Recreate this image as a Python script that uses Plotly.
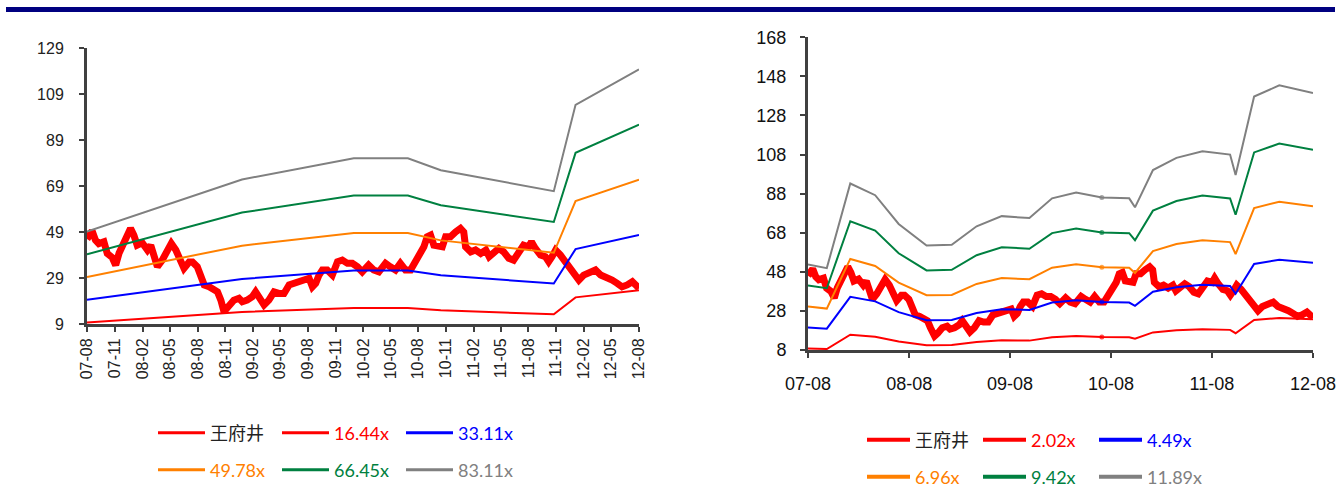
import plotly.graph_objects as go

W, H = 1341, 490

# ---------------- data ----------------
price_dates = [
    "2007-08-01","2007-08-09","2007-08-18","2007-08-29","2007-09-09","2007-09-26","2007-10-07","2007-10-23",
    "2007-11-04","2007-11-15","2007-11-26","2007-12-07","2007-12-23",
    "2008-01-03","2008-01-14","2008-01-31","2008-02-17","2008-02-28","2008-03-10","2008-03-21","2008-04-06",
    "2008-04-23","2008-05-06","2008-05-21","2008-06-06","2008-06-17","2008-07-04","2008-07-15","2008-07-31",
    "2008-08-12","2008-08-23","2008-09-08","2008-09-25","2008-10-06","2008-10-17","2008-10-26","2008-11-01",
    "2008-11-12","2008-11-29","2008-12-16","2008-12-27",
    "2009-01-12","2009-01-29","2009-02-09","2009-02-20","2009-03-09","2009-03-25","2009-04-11","2009-04-27",
    "2009-05-14","2009-05-31","2009-06-16","2009-07-03","2009-07-19","2009-08-05","2009-08-16","2009-08-27",
    "2009-09-07","2009-09-18","2009-10-04","2009-10-21","2009-11-07","2009-11-23","2009-12-10","2009-12-26",
    "2010-01-12","2010-01-28","2010-02-18","2010-03-07","2010-03-24","2010-04-15","2010-05-01","2010-05-18",
    "2010-06-03","2010-06-20","2010-07-07","2010-07-23","2010-08-09","2010-08-20","2010-08-31","2010-09-11",
    "2010-09-22","2010-10-09","2010-10-20","2010-10-31","2010-11-16","2010-12-03","2010-12-19","2010-12-30",
    "2011-01-05","2011-01-22","2011-02-07","2011-02-24","2011-03-13","2011-03-24","2011-04-09","2011-04-25",
    "2011-05-11","2011-05-28","2011-06-13","2011-06-30","2011-07-16","2011-08-02","2011-08-11","2011-08-24",
    "2011-09-10","2011-09-26","2011-10-07","2011-10-18","2011-10-30","2011-11-15","2011-12-02","2011-12-18",
    "2012-01-04","2012-01-15","2012-01-31","2012-02-17","2012-03-10","2012-03-27","2012-04-12","2012-05-04",
    "2012-05-21","2012-06-06","2012-06-23","2012-07-10","2012-07-21","2012-08-01",
]
price_values = [
    46.0, 48.6, 49.5, 45.5, 44.0, 44.8, 39.7, 38.0, 34.6, 39.8, 42.6, 46.3, 50.6,
    47.7, 43.3, 44.3, 41.2, 43.3, 37.6, 33.9, 36.8, 41.2, 44.1, 41.2, 36.8, 33.2, 36.0, 36.0, 33.9,
    28.9, 26.0, 25.2, 23.8, 23.0, 19.4, 15.0, 15.1, 16.5, 19.4, 20.2, 18.7,
    19.4, 20.9, 23.0, 20.2, 17.3, 19.4, 23.0, 22.3, 22.3, 26.0, 26.7, 27.4, 27.4, 28.9, 25.2, 26.7,
    30.3, 32.5, 32.5, 30.3, 36.1, 36.8, 35.4, 35.4,
    33.9, 31.7, 34.7, 32.5, 31.7, 35.4, 33.9, 32.5, 35.4, 32.5, 32.5, 36.1, 39.0, 42.6, 47.0, 47.7,
    43.3, 43.3, 42.6, 47.0, 47.0, 49.1, 50.6, 49.0,
    42.6, 40.4, 41.2, 39.7, 41.2, 38.3, 39.7, 41.9, 40.4, 37.6, 36.8, 39.7, 43.3, 42.6, 44.8, 41.9,
    39.0, 38.3, 36.1, 38.3, 41.2, 39.0, 36.1, 32.5,
    30.3, 28.1, 30.3, 31.0, 32.5, 30.3, 29.6, 28.1, 26.7, 25.2, 26.0, 27.4, 26.0, 24.5,
]
price_name = "王府井"

# PE bands (left chart)
pe_dates = ["2007-08-01", "2008-12-26", "2009-12-31", "2010-06-28", "2010-10-15",
            "2011-10-24", "2012-01-04", "2012-08-01"]
pe_names = ["16.44x", "33.11x", "49.78x", "66.45x", "83.11x"]
pe_16 = [9.7, 14.2, 16.0, 16.0, 15.0, 13.2, 20.6, 23.7]
pe_33 = [19.6, 28.6, 32.3, 32.3, 30.2, 26.6, 41.6, 47.7]
pe_50 = [29.5, 43.1, 48.6, 48.6, 45.4, 40.0, 62.5, 71.8]
pe_66 = [39.3, 57.5, 64.9, 64.9, 60.7, 53.4, 83.5, 95.8]
pe_83 = [49.2, 71.9, 81.1, 81.1, 75.9, 66.8, 104.4, 119.8]

# PB bands (right chart)
pb_dates = ["2007-08-01", "2007-10-08", "2008-01-01", "2008-03-31", "2008-06-24", "2008-10-03",
            "2009-01-02", "2009-04-02", "2009-07-02", "2009-10-10", "2009-12-31", "2010-03-28",
            "2010-06-29", "2010-10-06", "2010-10-27", "2010-12-31", "2011-03-26", "2011-06-28",
            "2011-10-06", "2011-10-26", "2012-01-01", "2012-04-01", "2012-08-01"]
pb_names = ["2.02x", "4.49x", "6.96x", "9.42x", "11.89x"]
pb_2 = [8.8, 8.5, 15.8, 14.8, 12.3, 10.4, 10.5, 12.1, 13.0, 12.8, 14.5, 15.1, 14.6, 14.5, 13.8,
        17.0, 18.1, 18.6, 18.3, 16.6, 23.4, 24.4, 23.7]
pb_4 = [19.5, 18.9, 35.2, 32.9, 27.4, 23.2, 23.4, 26.9, 28.9, 28.5, 32.3, 33.5, 32.5, 32.3, 30.6,
        37.8, 40.1, 41.4, 40.8, 36.8, 52.0, 54.2, 52.7]
pb_7 = [30.3, 29.2, 54.6, 51.0, 42.5, 36.0, 36.2, 41.8, 44.8, 44.2, 50.1, 51.9, 50.3, 50.1, 47.4,
        58.6, 62.2, 64.2, 63.2, 57.1, 80.6, 83.9, 81.6]
pb_9 = [41.0, 39.6, 73.9, 69.1, 57.5, 48.7, 49.0, 56.5, 60.6, 59.8, 67.8, 70.2, 68.1, 67.8, 64.2,
        79.3, 84.2, 87.0, 85.5, 77.2, 109.1, 113.6, 110.5]
pb_12 = [51.7, 49.9, 93.2, 87.2, 72.5, 61.5, 61.8, 71.3, 76.5, 75.5, 85.6, 88.6, 86.0, 85.6, 81.0,
         100.1, 106.3, 109.7, 108.0, 97.5, 137.7, 143.4, 139.5]
pb_marked_date = "2010-06-29"   # the point drawn with a small dot on each PB band

left_tick_dates = ["2007-08-01", "2007-11-01", "2008-02-01", "2008-05-01", "2008-08-01", "2008-11-01",
                   "2009-02-01", "2009-05-01", "2009-08-01", "2009-11-01", "2010-02-01", "2010-05-01",
                   "2010-08-01", "2010-11-01", "2011-02-01", "2011-05-01", "2011-08-01", "2011-11-01",
                   "2012-02-01", "2012-05-01", "2012-08-01"]
left_tick_labels = ["07-08", "07-11", "08-02", "08-05", "08-08", "08-11", "09-02", "09-05", "09-08",
                    "09-11", "10-02", "10-05", "10-08", "10-11", "11-02", "11-05", "11-08", "11-11",
                    "12-02", "12-05", "12-08"]
left_y_ticks = [9, 29, 49, 69, 89, 109, 129]

right_tick_dates = ["2007-08-01", "2008-08-01", "2009-08-01", "2010-08-01", "2011-08-01", "2012-08-01"]
right_tick_labels = ["07-08", "08-08", "09-08", "10-08", "11-08", "12-08"]
right_y_ticks = [8, 28, 48, 68, 88, 108, 128, 148, 168]

band_colors = ["#FF0000", "#0000FF", "#FF8000", "#008040", "#808080"]
price_color = "#FF0000"

# ---------------- figure ----------------
fig = go.Figure()

def colored(name, color):
    return f'<span style="color:{color}">{name}</span>'

def legend_proxy(name, color, width, legend, xa, ya):
    # legend-only entry (no data drawn), so the legend sample has a uniform stroke
    return go.Scatter(x=[None], y=[None], mode="lines", name=name,
                      line=dict(color=color, width=width), xaxis=xa, yaxis=ya,
                      legend=legend, showlegend=True, hoverinfo="skip")

# left chart
fig.add_trace(go.Scatter(x=price_dates, y=price_values, mode="lines", name=price_name,
                         line=dict(color=price_color, width=7), xaxis="x", yaxis="y",
                         showlegend=False))
pe_series = [pe_16, pe_33, pe_50, pe_66, pe_83]
for name, vals, col in zip(pe_names, pe_series, band_colors):
    fig.add_trace(go.Scatter(x=pe_dates, y=vals, mode="lines", name=name,
                             line=dict(color=col, width=2), xaxis="x", yaxis="y",
                             showlegend=False))

# right chart
fig.add_trace(go.Scatter(x=price_dates, y=price_values, mode="lines", name=price_name,
                         line=dict(color=price_color, width=7), xaxis="x2", yaxis="y2",
                         showlegend=False))
pb_series = [pb_2, pb_4, pb_7, pb_9, pb_12]
dot_sizes = [5 if d == pb_marked_date else 0 for d in pb_dates]
for name, vals, col in zip(pb_names, pb_series, band_colors):
    fig.add_trace(go.Scatter(x=pb_dates, y=vals, mode="lines+markers", name=name,
                             line=dict(color=col, width=2),
                             marker=dict(color=col, size=dot_sizes, line=dict(width=0)),
                             xaxis="x2", yaxis="y2", showlegend=False))

# legends
left_entries = [(price_name, price_color)] + list(zip(pe_names, band_colors))
right_entries = [(price_name, price_color)] + list(zip(pb_names, band_colors))
for i, (nm, col) in enumerate(left_entries):
    label = nm if i == 0 else colored(nm, col)
    fig.add_trace(legend_proxy(label, col, 3, "legend" if i < 3 else "legend2", "x", "y"))
for i, (nm, col) in enumerate(right_entries):
    label = nm if i == 0 else colored(nm, col)
    fig.add_trace(legend_proxy(label, col, 4, "legend3" if i < 3 else "legend4", "x2", "y2"))

axis_common = dict(showline=True, linecolor="#404040", linewidth=3, ticks="outside",
                   tickcolor="#404040", tickwidth=2, ticklen=5, showgrid=False, zeroline=False,
                   fixedrange=True, automargin=False)

tick_font_l = dict(family="Liberation Sans, Arial", size=16, color="#222222")
tick_font_r = dict(family="Liberation Sans, Arial", size=18, color="#111111")

leg_font_l = dict(family="Lato, Noto Sans CJK SC", size=18, color="#222222")
leg_font_r = dict(family="Lato, Noto Sans CJK SC", size=18, color="#222222")

def legend_cfg(x, y, font, itemwidth, entrywidth):
    return dict(x=x, y=y, xanchor="left", yanchor="middle", orientation="h",
                font=font, itemwidth=itemwidth, entrywidth=entrywidth, entrywidthmode="pixels",
                bgcolor="rgba(0,0,0,0)", borderwidth=0, tracegroupgap=0)

fig.update_layout(
    template="none",
    width=W, height=H,
    margin=dict(l=0, r=0, t=0, b=0, autoexpand=False),
    paper_bgcolor="white", plot_bgcolor="white",
    xaxis=dict(domain=[87 / W, 639 / W], type="date",
               range=["2007-08-01", "2012-08-01"],
               tickvals=left_tick_dates, ticktext=left_tick_labels, tickangle=-90,
               tickfont=tick_font_l, anchor="y", **axis_common),
    yaxis=dict(domain=[1 - 324 / H, 1 - 48.3 / H], range=[9, 129], tickvals=left_y_ticks,
               tickfont=tick_font_l, anchor="x", ticklabelstandoff=12, **axis_common),
    xaxis2=dict(domain=[808 / W, 1313 / W], type="date",
                range=["2007-08-01", "2012-08-01"],
                tickvals=right_tick_dates, ticktext=right_tick_labels, tickangle=0,
                tickfont=tick_font_r, anchor="y2", ticklabelstandoff=10, **axis_common),
    yaxis2=dict(domain=[1 - 350 / H, 1 - 37.3 / H], range=[8, 168], tickvals=right_y_ticks,
                tickfont=tick_font_r, anchor="x2", ticklabelstandoff=10, **axis_common),
    legend=legend_cfg((158 - 5) / W, 1 - 433 / H, leg_font_l, 47, 62),
    legend2=legend_cfg((158 - 5) / W, 1 - 470 / H, leg_font_l, 47, 62),
    legend3=legend_cfg((867 - 5) / W, 1 - 440 / H, leg_font_r, 43, 58),
    legend4=legend_cfg((867 - 5) / W, 1 - 477 / H, leg_font_r, 43, 58),
    shapes=[dict(type="rect", xref="paper", yref="paper", x0=6 / W, x1=1335 / W,
                 y0=1 - 12 / H, y1=1 - 7 / H, fillcolor="#000080", line=dict(width=0),
                 layer="above")],
    showlegend=True,
)

fig.write_html("out.html", config={"displayModeBar": False})
